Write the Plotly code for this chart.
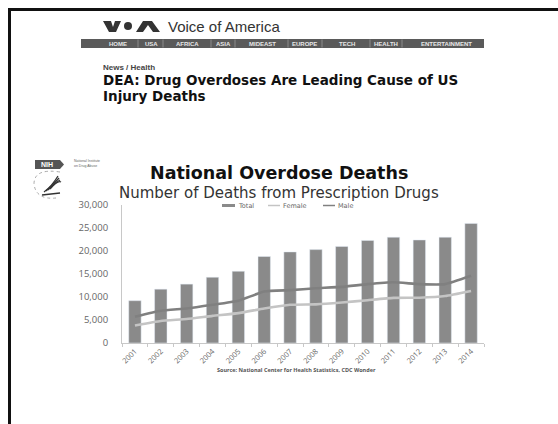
import plotly.graph_objects as go

years = [str(y) for y in range(2001, 2015)]
total = [9200, 11700, 12800, 14300, 15600, 18800, 19800, 20300, 21000, 22300, 23000, 22400, 23000, 26000]
female = [3800, 4800, 5200, 5900, 6500, 7500, 8300, 8400, 8800, 9300, 9800, 9850, 10200, 11300]
male = [5700, 7000, 7500, 8300, 9200, 11200, 11500, 11900, 12200, 12800, 13200, 12800, 12800, 14600]
y_ticks = [0, 5000, 10000, 15000, 20000, 25000, 30000]
y_tick_text = ["0", "5,000", "10,000", "15,000", "20,000", "25,000", "30,000"]
nav_items = ["HOME", "USA", "AFRICA", "ASIA", "MIDEAST", "EUROPE", "TECH", "HEALTH", "ENTERTAINMENT"]

W, H = 558, 424
L, R, T, B = 122, 484, 205, 343


def px(x):
    return (x - L) / (R - L)


def py(y):
    return (B - y) / (B - T)


fig = go.Figure()
fig.add_trace(go.Bar(x=years, y=total, name="Total", marker_color="#8a8a8a", width=0.48))
fig.add_trace(go.Scatter(x=years, y=female, name="Female", mode="lines",
                         line=dict(color="#c4c4c4", width=2.6, shape="spline", smoothing=0.4)))
fig.add_trace(go.Scatter(x=years, y=male, name="Male", mode="lines",
                         line=dict(color="#808080", width=2.6, shape="spline", smoothing=0.4)))

shapes = []
ann = []


def rect(x0, y0, x1, y1, fill, line=None, lw=0):
    shapes.append(dict(type="rect", xref="paper", yref="paper", x0=px(x0), x1=px(x1), y0=py(y1), y1=py(y0),
                       fillcolor=fill, line=dict(color=line or fill, width=lw), layer="above"))


def line(x0, y0, x1, y1, color, width):
    shapes.append(dict(type="line", xref="paper", yref="paper", x0=px(x0), x1=px(x1), y0=py(y0), y1=py(y1),
                       line=dict(color=color, width=width), layer="above"))


def path(points, fill=None, color="#333", width=0, closed=True):
    d = "M " + " L ".join(f"{px(a):.5f},{py(b):.5f}" for a, b in points)
    if closed:
        d += " Z"
    shapes.append(dict(type="path", xref="paper", yref="paper", path=d,
                       fillcolor=fill if fill else "rgba(0,0,0,0)", line=dict(color=color, width=width), layer="above"))


def text(x, y, s, size, color="#222", family="Liberation Sans", xanchor="left", bold=False):
    if bold:
        s = "<b>" + s + "</b>"
    ann.append(dict(xref="paper", yref="paper", x=px(x), y=py(y), text=s, showarrow=False,
                    xanchor=xanchor, yanchor="middle", font=dict(size=size, color=color, family=family)))


# page frame
line(8, 9.5, 558, 9.5, "#111", 3)
line(9.5, 9, 9.5, 424, "#111", 3)

# VOA logo
path([(103, 21), (111, 21), (113, 27), (115, 21), (121, 21), (116, 32), (109, 32)], fill="#333")
shapes.append(dict(type="circle", xref="paper", yref="paper", x0=px(124), x1=px(132), y0=py(30), y1=py(22),
                   fillcolor="#333", line=dict(color="#333", width=0), layer="above"))
path([(136, 32), (143, 21), (152, 21), (160, 32), (153, 32), (148, 25), (143, 32)], fill="#333")
text(166, 26.5, "Voice of America", 15, color="#333")

# nav bar
rect(81, 39, 484, 48, "#5a5a5a")
nav_x = [118, 151, 187, 223, 262, 304, 347, 386, 446]
seps = [138, 163, 211, 235, 288, 322, 370, 402]
for s in seps:
    line(s, 39.5, s, 47.5, "#8a8a8a", 1)
for nx, t in zip(nav_x, nav_items):
    text(nx, 43.5, t, 6, color="#e8e8e8", xanchor="center", bold=True)

# article header
text(101, 67.5, "News / Health", 8, color="#444", bold=True)
text(101, 80, "DEA: Drug Overdoses Are Leading Cause of US", 13.5, color="#111", family="DejaVu Sans", bold=True)
text(101, 95.5, "Injury Deaths", 13.5, color="#111", family="DejaVu Sans", bold=True)

# NIH logo
path([(35, 160), (60, 160), (64, 164.5), (60, 169), (35, 169)], fill="#555")
text(47, 164.5, "NIH", 7, color="#fff", xanchor="center", bold=True)
text(72, 161.3, "National Institute", 3.5, color="#666")
text(72, 166.2, "on Drug Abuse", 3.5, color="#666")

# HHS logo
shapes.append(dict(type="path", xref="paper", yref="paper",
                   path=f"M {px(60):.5f},{py(172):.5f} Q {px(34):.5f},{py(168):.5f} {px(34):.5f},{py(184):.5f} "
                        f"Q {px(36):.5f},{py(200):.5f} {px(56):.5f},{py(198):.5f}",
                   line=dict(color="#aaa", width=1, dash="dot"), layer="above"))
for k in range(4):
    shapes.append(dict(type="path", xref="paper", yref="paper",
                       path=f"M {px(44 + k * 2):.5f},{py(192 - k):.5f} Q {px(52 + k * 2):.5f},{py(186 - k * 2):.5f} "
                            f"{px(58 + k):.5f},{py(176 + k * 2):.5f}",
                       line=dict(color="#333", width=1.3), layer="above"))
line(42, 195, 60, 193, "#333", 1.3)

# chart titles
text(279, 173, "National Overdose Deaths", 17.5, color="#111", family="DejaVu Sans", xanchor="center", bold=True)
text(279, 192.5, "Number of Deaths from Prescription Drugs", 15, color="#333", family="DejaVu Sans", xanchor="center")

# legend
rect(222, 204, 235, 207, "#8a8a8a")
text(236, 205.5, "Total", 6.5, color="#666", family="DejaVu Sans")
line(268, 205.5, 280, 205.5, "#c4c4c4", 1.5)
text(281, 205.5, "Female", 6.5, color="#666", family="DejaVu Sans")
line(323, 205.5, 335, 205.5, "#808080", 1.5)
text(336, 205.5, "Male", 6.5, color="#666", family="DejaVu Sans")

# source
text(296, 370, "Source: National Center for Health Statistics, CDC Wonder", 5.5, color="#555",
     family="Open Sans", xanchor="center", bold=True)

fig.update_layout(
    width=W, height=H, autosize=False,
    margin=dict(l=L, r=W - R, t=T, b=H - B, pad=0),
    paper_bgcolor="white", plot_bgcolor="white",
    showlegend=False, bargap=0.52,
    shapes=shapes, annotations=ann,
    xaxis=dict(showgrid=False, showline=True, linecolor="#c8c8c8", linewidth=1,
               ticks="outside", tickson="boundaries", ticklen=3, tickcolor="#c8c8c8",
               tickangle=-45, tickfont=dict(size=7.5, color="#666", family="Open Sans")),
    yaxis=dict(range=[0, 30000], tickvals=y_ticks, ticktext=y_tick_text, showgrid=False,
               showline=True, linecolor="#c8c8c8", linewidth=1, ticks="", ticklabelstandoff=11,
               tickfont=dict(size=9.5, color="#666", family="Open Sans"), zeroline=False),
)

fig.write_html("out.html")
